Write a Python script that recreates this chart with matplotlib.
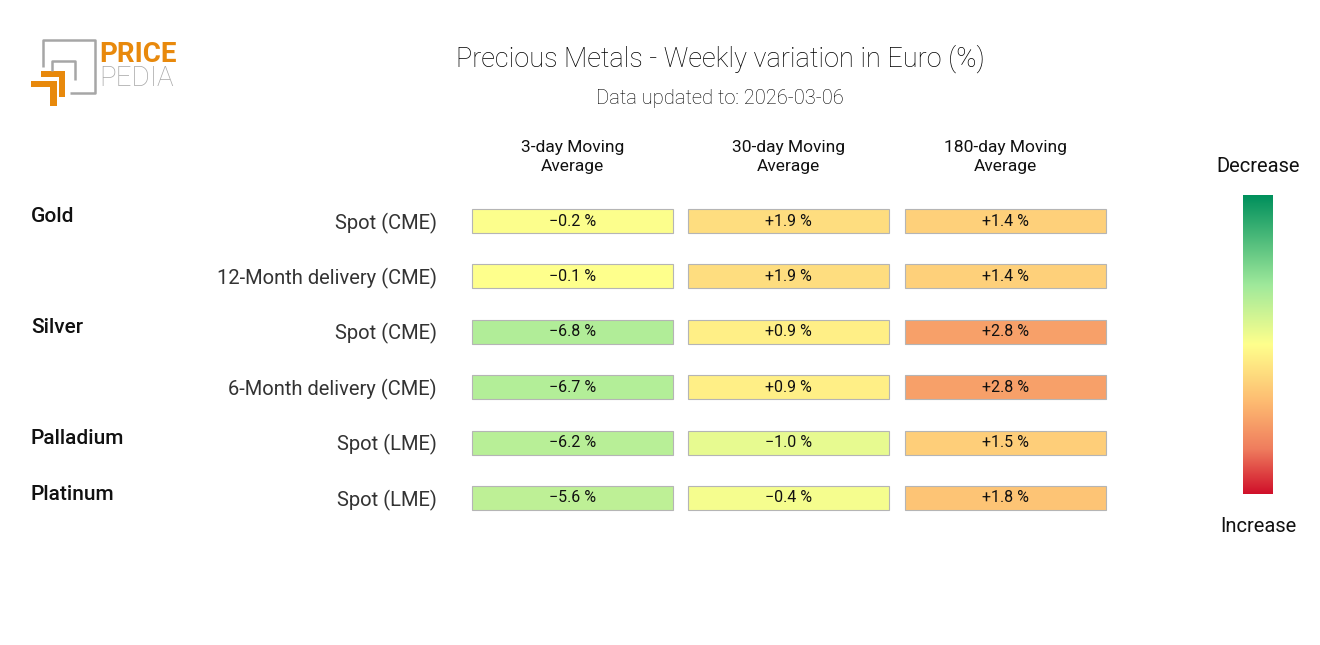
import matplotlib
matplotlib.use("Agg")
import matplotlib.pyplot as plt
from matplotlib.colors import LinearSegmentedColormap, Normalize
from matplotlib.patches import Rectangle, Polygon
import numpy as np

plt.rcParams['font.family'] = ['Roboto', 'DejaVu Sans']

# ── Data ──────────────────────────────────────────────────────────────────────
TITLE    = "Precious Metals - Weekly variation in Euro (%)"
SUBTITLE = "Data updated to: 2026-03-06"

columns = ["3-day Moving\nAverage", "30-day Moving\nAverage", "180-day Moving\nAverage"]
groups  = ["Gold", "", "Silver", "", "Palladium", "Platinum"]
series  = ["Spot (CME)", "12-Month delivery (CME)", "Spot (CME)",
           "6-Month delivery (CME)", "Spot (LME)", "Spot (LME)"]

ma3   = [-0.2, -0.1, -6.8, -6.7, -6.2, -5.6]
ma30  = [1.9, 1.9, 0.9, 0.9, -1.0, -0.4]
ma180 = [1.4, 1.4, 2.8, 2.8, 1.5, 1.8]

# colour scale half-range for each column
col_range = [21, 10, 5.4]

# ── Layout (figure pixels) ────────────────────────────────────────────────────
W, H = 1320, 645
COL_X0 = [472, 688, 905]
CELL_W, CELL_H = 201, 24
ROW_Y0, ROW_STEP = 221, 55.4

cmap = LinearSegmentedColormap.from_list("pp", [
    (0.0, "#00905c"), (0.3, "#9fe99b"), (0.5, "#ffff8c"),
    (0.7, "#fdb870"), (0.85, "#ef7d5e"), (1.0, "#d0102a")])

fig = plt.figure(figsize=(W / 100, H / 100), dpi=100)
ax = fig.add_axes([0, 0, 1, 1])
ax.set_xlim(0, W)
ax.set_ylim(H, 0)
ax.axis("off")

# titles
ax.text(720, 59, TITLE, ha="center", va="center", fontsize=19.5, fontweight="light", color="#000000")
ax.text(720, 98, SUBTITLE, ha="center", va="center", fontsize=14.5, fontweight="light", color="#000000")

# column headers
for j, col in enumerate(columns):
    ax.text(COL_X0[j] + CELL_W / 2, 157, col, ha="center", va="center",
            fontsize=12.5, linespacing=1.35, color="#111111")

# rows
data = [ma3, ma30, ma180]
for i in range(len(series)):
    yc = ROW_Y0 + i * ROW_STEP
    if groups[i]:
        ax.text(31, yc - 4, groups[i], ha="left", va="center", fontsize=15,
                fontweight="medium", color="#111111")
    ax.text(437, yc + 2, series[i], ha="right", va="center", fontsize=14.5,
            color="#333333")
    for j, vals in enumerate(data):
        v = vals[i]
        norm = Normalize(-col_range[j], col_range[j])
        ax.add_patch(Rectangle((COL_X0[j], yc - CELL_H / 2), CELL_W, CELL_H,
                               facecolor=cmap(norm(v)), edgecolor="#b5b5b5", linewidth=0.8))
        label = f"{v:+.1f} %".replace("-", "\u2212")
        ax.text(COL_X0[j] + CELL_W / 2, yc, label, ha="center", va="center",
                fontsize=11.5, color="#111111")

# colour bar (green = decrease at top)
cax = fig.add_axes([1243 / W, 1 - 494 / H, 30 / W, 299 / H])
grad = np.linspace(0, 1, 256)[:, None]
cax.imshow(grad, aspect="auto", cmap=cmap, origin="upper")
cax.axis("off")
ax.text(1258, 166, "Decrease", ha="center", va="center", fontsize=14.5, color="#111111")
ax.text(1258, 526, "Increase", ha="center", va="center", fontsize=14.5, color="#111111")

# logo
gray, orange = "#a6a6a6", "#e8890c"
ax.plot([43, 43, 95, 95, 70], [67, 40, 40, 93, 93], color=gray, lw=1.8, solid_capstyle="butt")
ax.plot([52, 52, 75, 75], [71, 61, 61, 80], color=gray, lw=1.8, solid_capstyle="butt")
ax.add_patch(Polygon([(41, 71), (65, 71), (65, 97), (59, 97), (59, 77), (41, 77)],
                     closed=True, facecolor=orange, edgecolor="none"))
ax.add_patch(Polygon([(31, 81), (57, 81), (57, 106), (50, 106), (50, 87), (31, 87)],
                     closed=True, facecolor=orange, edgecolor="none"))
ax.text(99, 54, "PRICE", ha="left", va="center", fontsize=20, fontweight="bold", color=orange)
ax.text(99, 79, "PEDIA", ha="left", va="center", fontsize=20, fontweight="light", color=gray)

fig.savefig("out.png", dpi=100)
